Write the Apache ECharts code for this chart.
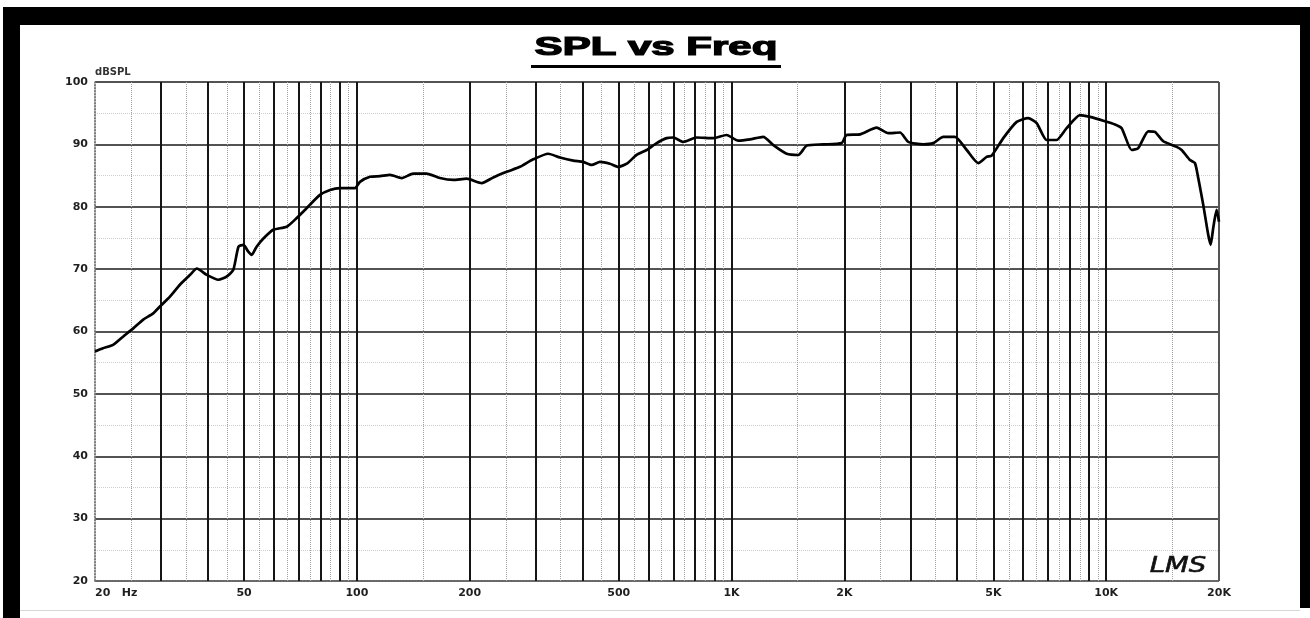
<!DOCTYPE html>
<html>
<head>
<meta charset="utf-8">
<script src="https://cdn.jsdelivr.net/npm/echarts@6/dist/echarts.min.js"></script>
<style>
html,body{margin:0;padding:0;background:#fff;}
#chart{width:1310px;height:618px;}
</style>
</head>
<body>
<div id="chart"></div>
<script>
// ---- data ----
const titleText = 'SPL vs Freq';
const yName = 'dBSPL';
const freq = [20, 21, 22.4, 23.8, 25.3, 26.9, 28.6, 29.8, 31.7, 33.7, 35.9, 37.4, 39.7, 42.7, 44.9, 46.8, 48.3, 49.8, 51.3, 52.4, 54, 56.3, 59.8, 65, 69.1, 73.5, 79.7, 84.8, 90.1, 98.8, 101.9, 108.4, 115.3, 122.6, 131.7, 141.4, 153.5, 166.6, 180.8, 196.3, 215.4, 231.2, 251.2, 272.5, 295.6, 324.3, 348.4, 378.1, 402, 423.4, 445.5, 473.6, 498.6, 525.2, 558.2, 593.6, 631.2, 671.1, 698.8, 743.2, 807.1, 894, 970.4, 1042, 1120, 1215, 1292, 1403, 1507, 1587, 1757, 1967, 2028, 2201, 2440, 2620, 2816, 2962, 3248, 3454, 3673, 3946, 4243, 4556, 4796, 4946, 5312, 5768, 6192, 6522, 6934, 7373, 7840, 8510, 9049, 9820, 10552, 10996, 11692, 12177, 12948, 13490, 14197, 15418, 15897, 16730, 17253, 17606, 18155, 18719, 19000, 19303, 19708, 20000];
const spl = [56.8, 57.3, 57.9, 59.2, 60.5, 61.9, 62.9, 64.0, 65.6, 67.5, 69.1, 70.1, 69.1, 68.3, 68.8, 69.9, 73.6, 73.9, 72.8, 72.3, 73.6, 74.9, 76.3, 76.8, 78.2, 79.8, 81.9, 82.7, 83.0, 83.0, 84.0, 84.8, 84.9, 85.1, 84.6, 85.3, 85.3, 84.6, 84.3, 84.5, 83.8, 84.7, 85.6, 86.4, 87.6, 88.5, 87.9, 87.4, 87.2, 86.7, 87.2, 86.9, 86.4, 86.9, 88.3, 89.1, 90.2, 91.0, 91.1, 90.4, 91.1, 91.0, 91.5, 90.6, 90.8, 91.2, 89.9, 88.5, 88.3, 89.8, 90.0, 90.2, 91.5, 91.6, 92.7, 91.8, 91.9, 90.4, 90.0, 90.2, 91.2, 91.2, 89.1, 87.0, 88.0, 88.2, 91.0, 93.6, 94.2, 93.4, 90.7, 90.7, 92.6, 94.7, 94.4, 93.8, 93.2, 92.6, 89.1, 89.4, 92.1, 92.0, 90.5, 89.6, 89.1, 87.5, 87.0, 84.6, 80.3, 75.5, 73.9, 76.6, 79.5, 77.6];
const xTickValues = [20, 50, 100, 200, 500, 1000, 2000, 5000, 10000, 20000];
const xTickLabels = ['20   Hz', '50', '100', '200', '500', '1K', '2K', '5K', '10K', '20K'];
const majorGridFreqs = [30, 40, 50, 60, 70, 80, 90, 100, 200, 300, 400, 500, 600, 700, 800, 900, 1000, 2000, 3000, 4000, 5000, 6000, 7000, 8000, 9000, 10000];
const minorGridFreqs = [25, 35, 45, 55, 65, 75, 85, 95, 150, 250, 350, 450, 550, 650, 750, 850, 950, 1500, 2500, 3500, 4500, 5500, 6500, 7500, 8500, 9500, 15000];
const edgeFreqs = [20, 20000];
const signText = 'LMS';

const chart = echarts.init(document.getElementById('chart'), null, {renderer: 'canvas'});
const labelFont = {fontFamily: 'DejaVu Sans', fontWeight: 'bold', fontSize: 11, color: '#1e1e1e'};

const gridLines = []
  .concat(minorGridFreqs.map(v => ({xAxis: v, lineStyle: {color: '#a0a0a0', width: 1, type: 'dotted'}})))
  .concat(majorGridFreqs.map(v => ({xAxis: v, lineStyle: {color: '#151515', width: 2, type: 'solid'}})))
  .concat([{xAxis: edgeFreqs[0], lineStyle: {color: '#777', width: 1.5, type: 'dotted'}},
           {xAxis: edgeFreqs[1], lineStyle: {color: '#555', width: 2, type: 'solid'}}]);

const option = {
  animation: false,
  backgroundColor: '#fff',
  grid: {left: 95, right: 91, top: 82, bottom: 37, containLabel: false},
  xAxis: {
    type: 'log', logBase: 10, min: 20, max: 20000,
    axisLine: {show: true, lineStyle: {color: '#777', width: 1.5, type: 'dotted'}},
    axisTick: {show: false},
    splitLine: {show: false},
    axisLabel: Object.assign({
      customValues: xTickValues,
      formatter: v => { const i = xTickValues.findIndex(t => Math.abs(t - v) / t < 1e-6); return i >= 0 ? xTickLabels[i] : ''; },
      margin: 7,
      alignMinLabel: 'left',
      showMinLabel: true, showMaxLabel: true
    }, labelFont)
  },
  yAxis: {
    type: 'value', min: 20, max: 100, interval: 10,
    name: yName, nameLocation: 'end', nameGap: 5,
    nameTextStyle: {align: 'left', fontFamily: 'DejaVu Sans', fontWeight: 'bold', fontSize: 10, color: '#333'},
    axisLine: {show: true, lineStyle: {color: '#777', width: 1.5, type: 'dotted'}},
    axisTick: {show: false},
    axisLabel: Object.assign({margin: 7}, labelFont),
    splitLine: {show: true, lineStyle: {color: '#1a1a1a', width: 1.5}},
    minorTick: {show: false, splitNumber: 2},
    minorSplitLine: {show: true, lineStyle: {color: '#cfcfcf', width: 1, type: 'dotted'}}
  },
  series: [
    {
      name: 'grid', type: 'line', data: [], z: 1, silent: true,
      markLine: {silent: true, symbol: ['none', 'none'], label: {show: false}, animation: false, data: gridLines}
    },
    {
      name: 'SPL', type: 'line', z: 5, showSymbol: false, smooth: 0.2,
      lineStyle: {color: '#000', width: 2.7},
      data: freq.map((f, i) => [f, spl[i]])
    }
  ],
  graphic: [
    {type: 'rect', shape: {x: 3, y: 7, width: 1307, height: 18}, style: {fill: '#000'}, z: 100},
    {type: 'rect', shape: {x: 3, y: 7, width: 17, height: 611}, style: {fill: '#000'}, z: 100},
    {type: 'rect', shape: {x: 1300, y: 7, width: 10, height: 601}, style: {fill: '#000'}, z: 100},
    {type: 'rect', shape: {x: 20, y: 610, width: 1280, height: 1}, style: {fill: '#d8d8d8'}, z: 100},
    {type: 'text', x: 656, y: 48, scaleX: 1.68, scaleY: 1, z: 100,
      style: {text: titleText, fontFamily: 'Liberation Sans', fontWeight: 'bold', fontSize: 25, fill: '#000', stroke: '#000', lineWidth: 1.2, textAlign: 'center', textVerticalAlign: 'middle'}},
    {type: 'rect', shape: {x: 531, y: 65, width: 250, height: 3}, style: {fill: '#000'}, z: 100},
    {type: 'text', x: 1178, y: 566, scaleX: 1.25, z: 100,
      style: {text: signText, fontFamily: 'DejaVu Sans', fontStyle: 'italic', fontSize: 22, fill: '#111', textAlign: 'center', textVerticalAlign: 'middle', stroke: '#111', lineWidth: 0.6}}
  ]
};
chart.setOption(option);
</script>
</body>
</html>
